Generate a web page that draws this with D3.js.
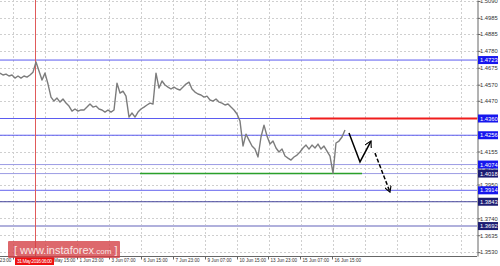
<!DOCTYPE html>
<html>
<head>
<meta charset="utf-8">
<script src="https://cdn.jsdelivr.net/npm/d3@7"></script>
<style>
  body { margin: 0; background: #fff; }
  svg { display: block; font-family: "Liberation Sans", Arial, sans-serif; }
</style>
</head>
<body>
<svg></svg>
<script>
// hourly closes, one value every 3 bars
const closes = [
  1.4642, 1.4630, 1.4636, 1.4624, 1.4630, 1.4611, 1.4624, 1.4611, 1.4624, 1.4617,
  1.4630, 1.4648, 1.4711, 1.4655, 1.4599, 1.4642, 1.4574, 1.4493, 1.4468, 1.4487,
  1.4462, 1.4481, 1.4456, 1.4437, 1.4406, 1.4419, 1.4406, 1.4413, 1.4413, 1.4431,
  1.4450, 1.4431, 1.4437, 1.4419, 1.4413, 1.4400, 1.4413, 1.4400, 1.4413, 1.4580,
  1.4518, 1.4530, 1.4499, 1.4369, 1.4394, 1.4369, 1.4400, 1.4419, 1.4431, 1.4444,
  1.4456, 1.4450, 1.4642, 1.4549, 1.4593, 1.4568, 1.4555, 1.4543, 1.4555, 1.4543,
  1.4537, 1.4555, 1.4574, 1.4586, 1.4543, 1.4524, 1.4512, 1.4506, 1.4493, 1.4499,
  1.4475, 1.4468, 1.4481, 1.4462, 1.4456, 1.4444, 1.4450, 1.4431, 1.4413, 1.4388,
  1.4344, 1.4189, 1.4263, 1.4226, 1.4189, 1.4170, 1.4121, 1.4245, 1.4319, 1.4251,
  1.4201, 1.4220, 1.4177, 1.4152, 1.4170, 1.4127, 1.4114, 1.4102, 1.4121, 1.4133,
  1.4152, 1.4177, 1.4195, 1.4170, 1.4195, 1.4177, 1.4201, 1.4170, 1.4189, 1.4158,
  1.4127, 1.4020, 1.4208, 1.4220, 1.4245, 1.4288
];
const barStep = 3;

const priceTicks = [1.5090, 1.4985, 1.4885, 1.4780, 1.4675, 1.4570, 1.4470, 1.4365,
  1.4260, 1.4155, 1.4050, 1.3950, 1.3845, 1.3740, 1.3635, 1.3530];

const dateTicks = [-19, 13, 45, 77, 109, 141, 173, 205, 237, 268, 300, 332];
const dateLabels = ['26 May 23:00', '30 May 07:00', '31 May 15:00', '1 Jun 23:00', '3 Jun 07:00',
  '6 Jun 15:00', '7 Jun 23:00', '9 Jun 07:00', '10 Jun 15:00', '13 Jun 23:00',
  '15 Jun 07:00', '16 Jun 15:00'];

// support / resistance levels
const levels = [1.4723, 1.4360, 1.4256, 1.4074, 1.4018, 1.3914, 1.3843, 1.3692];
const levelColors = ['#5b5bf0', '#5b5bf0', '#5b5bf0', '#9c9ce4', '#9c9ce4', '#6464ee', '#45459c', '#b0b0dc'];
const levelWidths = [1, 1, 1, 1, 1, 1, 1, 2];
const levelBoxes = ['#1616ee', '#1616ee', '#1616ee', '#1616ee', '#1c1c72', '#1616ee', '#1c1c72', '#1c1c72'];

const redLevel = 1.4360, redFrom = 310;
const greenLevel = 1.4018, greenFrom = 140, greenTo = 362;

const crossBar = 36;
const crossLabel = '31 May 2016 06:00';

const forecastSolid = [[349, 1.4270], [360, 1.4090], [371, 1.4220]];
const forecastDashed = [[375, 1.4145], [390, 1.3903]];

let width = 500
let height = 266
let plotRight = 477
let plotBottom = 256

let svg = d3.select('svg').attr('width', width).attr('height', height)

let xScale = d3.scaleLinear().domain([0, plotRight]).range([0, plotRight])
let yScale = d3.scaleLinear().domain([1.3506, 1.5096]).range([plotBottom, 0])

let defs = svg.append('defs')
defs.append('clipPath').attr('id', 'plot')
  .append('rect').attr('x', 0).attr('y', 0).attr('width', plotRight).attr('height', plotBottom)
defs.append('marker')
  .attr('id', 'head')
  .attr('viewBox', '0 0 8 8')
  .attr('refX', 7).attr('refY', 4)
  .attr('markerWidth', 7).attr('markerHeight', 7)
  .attr('markerUnits', 'userSpaceOnUse')
  .attr('orient', 'auto')
  .append('path')
  .attr('d', 'M0,0 L7,4 L0,8')
  .attr('fill', 'none').attr('stroke', '#000').attr('stroke-width', 1.3)

let plot = svg.append('g').attr('clip-path', 'url(#plot)')

// grid
plot.selectAll('.hgrid')
  .data(priceTicks)
  .enter()
  .append('line')
  .attr('x1', 0).attr('x2', plotRight)
  .attr('y1', d => Math.round(yScale(d)) + 0.5)
  .attr('y2', d => Math.round(yScale(d)) + 0.5)
  .attr('stroke', '#cfcfcf').attr('stroke-dasharray', '2,2')

plot.selectAll('.vgrid')
  .data(d3.range(-19, plotRight, 32))
  .enter()
  .append('line')
  .attr('x1', d => Math.round(xScale(d)) + 0.5)
  .attr('x2', d => Math.round(xScale(d)) + 0.5)
  .attr('y1', 0).attr('y2', plotBottom)
  .attr('stroke', '#cfcfcf').attr('stroke-dasharray', '2,2')

// levels
plot.selectAll('.level')
  .data(levels)
  .enter()
  .append('line')
  .attr('x1', 0).attr('x2', plotRight)
  .attr('y1', d => yScale(d)).attr('y2', d => yScale(d))
  .attr('stroke', (d, i) => levelColors[i])
  .attr('stroke-width', (d, i) => levelWidths[i])

plot.append('line')
  .attr('x1', xScale(redFrom)).attr('x2', plotRight)
  .attr('y1', yScale(redLevel)).attr('y2', yScale(redLevel))
  .attr('stroke', '#f01c1c').attr('stroke-width', 2)

plot.append('line')
  .attr('x1', xScale(greenFrom)).attr('x2', xScale(greenTo))
  .attr('y1', yScale(greenLevel)).attr('y2', yScale(greenLevel))
  .attr('stroke', '#2aa02a').attr('stroke-width', 1.6)

// crosshair
plot.append('line')
  .attr('x1', xScale(crossBar) - 0.5).attr('x2', xScale(crossBar) - 0.5)
  .attr('y1', 0).attr('y2', plotBottom)
  .attr('stroke', '#e05a5a').attr('stroke-width', 1)

// price line
let line = d3.line()
  .x((d, i) => xScale(i * barStep))
  .y(d => yScale(d))

plot.append('path')
  .datum(closes)
  .attr('d', line)
  .attr('fill', 'none')
  .attr('stroke', '#7c7c7c')
  .attr('stroke-width', 1.4)
  .attr('stroke-linejoin', 'round')

// forecast arrows
let fline = d3.line().x(d => xScale(d[0])).y(d => yScale(d[1]))
plot.append('path')
  .attr('d', fline(forecastSolid))
  .attr('fill', 'none').attr('stroke', '#000').attr('stroke-width', 1.5)
  .attr('marker-end', 'url(#head)')
plot.append('path')
  .attr('d', fline(forecastDashed))
  .attr('fill', 'none').attr('stroke', '#000').attr('stroke-width', 1.5)
  .attr('stroke-dasharray', '4,2')
  .attr('marker-end', 'url(#head)')

// axes
let yAxis = d3.axisRight(yScale)
  .tickValues(priceTicks)
  .tickFormat(d3.format('.4f'))
  .tickSize(3)
  .tickSizeOuter(0)

let gy = svg.append('g')
  .attr('transform', `translate(${plotRight + 0.5}, 0)`)
  .call(yAxis)
gy.select('.domain').attr('stroke', '#666')
gy.selectAll('.tick line').attr('stroke', '#666')
gy.selectAll('text')
  .attr('x', 2.5)
  .style('font-size', '5.8px')
  .style('fill', '#333')

let xAxis = d3.axisBottom(xScale)
  .tickValues(dateTicks)
  .tickFormat((d, i) => dateLabels[i])
  .tickSize(3)
  .tickSizeOuter(0)

let gx = svg.append('g')
  .attr('transform', `translate(0, ${plotBottom + 0.5})`)
  .call(xAxis)
gx.select('.domain').attr('stroke', '#666').attr('d', `M0,0H${plotRight}`)
gx.selectAll('.tick line').attr('stroke', '#666')
gx.selectAll('text')
  .attr('y', 2.5)
  .attr('x', 2)
  .style('text-anchor', 'start')
  .style('font-size', '4.6px')
  .style('fill', '#333')

// level price boxes
let boxes = svg.selectAll('.box')
  .data(levels)
  .enter()
  .append('g')
  .attr('transform', d => `translate(${plotRight + 1}, ${yScale(d)})`)
boxes.append('rect')
  .attr('x', 0).attr('y', -4)
  .attr('width', 20).attr('height', 8)
  .attr('fill', (d, i) => levelBoxes[i])
boxes.append('text')
  .attr('x', 2).attr('y', 2.1)
  .style('font-size', '5.8px')
  .style('fill', '#fff')
  .text(d => d3.format('.4f')(d))

// crosshair date box
let cross = svg.append('g')
  .attr('transform', `translate(${xScale(crossBar) - 21}, ${plotBottom + 1})`)
cross.append('rect')
  .attr('width', 39).attr('height', 8)
  .attr('fill', '#ee1111')
cross.append('text')
  .attr('x', 2).attr('y', 6)
  .attr('textLength', 35)
  .style('font-size', '5px')
  .style('fill', '#fff')
  .text(crossLabel)

// watermark
let wm = svg.append('g').attr('transform', 'translate(8, 241)')
wm.append('rect')
  .attr('width', 112).attr('height', 17).attr('rx', 1)
  .attr('fill', 'rgba(212, 62, 66, 0.78)')
let wt = wm.append('text')
  .attr('x', 6).attr('y', 13)
  .style('fill', '#f8e6e6')
  .style('font-size', '11px')
wt.append('tspan').text('[  www.instaforex')
wt.append('tspan').style('font-size', '8px').text('.com')
wt.append('tspan').text(' ]')
</script>
</body>
</html>
